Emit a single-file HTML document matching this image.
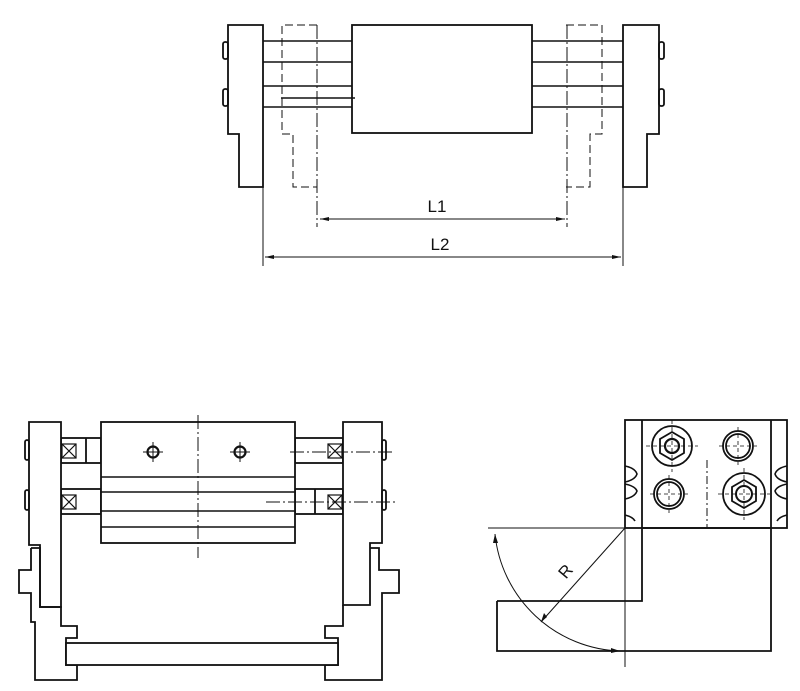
<!DOCTYPE html>
<html><head><style>html,body{margin:0;padding:0;background:#fff;}svg{display:block;}</style></head>
<body>
<svg width="800" height="691" viewBox="0 0 800 691" xmlns="http://www.w3.org/2000/svg" font-family="Liberation Sans, sans-serif">
<g fill="none" stroke="#111" stroke-width="1.8">
<!-- TOP VIEW -->
<polygon points="228,25 263,25 263,187 239,187 239,134 228,134" fill="#fff"/>
<polygon points="623,25 659,25 659,134 647,134 647,187 623,187" fill="#fff"/>
<rect x="352" y="25" width="180" height="108"/>
<g stroke-width="1.5">
<line x1="263" y1="41" x2="352" y2="41"/><line x1="263" y1="62" x2="352" y2="62"/>
<line x1="263" y1="86" x2="352" y2="86"/><line x1="263" y1="107" x2="352" y2="107"/>
<line x1="281" y1="98" x2="355" y2="98"/>
<line x1="532" y1="41" x2="623" y2="41"/><line x1="532" y1="62" x2="623" y2="62"/>
<line x1="532" y1="86" x2="623" y2="86"/><line x1="532" y1="107" x2="623" y2="107"/>
</g>
<rect x="223" y="42" width="5" height="17" rx="2"/><rect x="223" y="89" width="5" height="17" rx="2"/>
<rect x="659" y="42" width="5" height="17" rx="2"/><rect x="659" y="89" width="5" height="17" rx="2"/>
<g stroke-width="1" stroke-dasharray="8,4">
<polyline points="317,25 282,25 282,134 293,134 293,187 317,187"/>
<polyline points="566,25 602,25 602,134 590,134 590,187 566,187"/>
</g>
<g stroke-width="1" stroke-dasharray="14,3,2,3">
<line x1="317" y1="25" x2="317" y2="227"/>
<line x1="567" y1="25" x2="567" y2="227"/>
</g>
<g stroke-width="1">
<line x1="263" y1="187" x2="263" y2="266"/><line x1="623" y1="187" x2="623" y2="266"/>
<line x1="320" y1="219" x2="565" y2="219"/>
<line x1="265" y1="257" x2="621" y2="257"/>
</g>
</g>
<g fill="#111">
<polygon points="320,219 329,217 329,221"/><polygon points="565,219 556,217 556,221"/>
<polygon points="265,257 274,255 274,259"/><polygon points="621,257 612,255 612,259"/>
</g>
<text x="437" y="212" font-size="17" text-anchor="middle" fill="#111">L1</text>
<text x="440" y="250" font-size="17" text-anchor="middle" fill="#111">L2</text>

<!-- BOTTOM LEFT -->
<g fill="none" stroke="#111" stroke-width="1.8">
<rect x="61" y="438" width="40" height="25"/><rect x="61" y="489" width="40" height="25"/>
<rect x="295" y="438" width="48" height="25"/><rect x="295" y="489" width="48" height="25"/>
<line x1="86" y1="438" x2="86" y2="463"/><line x1="315" y1="489" x2="315" y2="514"/>
<polygon points="29,422 61,422 61,607 40,607 40,545 29,545" fill="#fff"/>
<polygon points="343,422 382,422 382,543 370,543 370,605 343,605" fill="#fff"/>
<polyline points="31,548 40,548 40,607 61,607 61,626 77,626 77,638 66,638 66,665 77,665 77,680 35,680 35,622 31,622 31,593 19,593 19,570 31,570 31,548"/>
<polyline points="370,548 379,548 379,570 399,570 399,593 382,593 382,680 325,680 325,665 338,665 338,638 325,638 325,626 343,626 343,605"/>
<rect x="66" y="643" width="272" height="22" fill="#fff"/>
<rect x="101" y="422" width="194" height="121" fill="#fff"/>
<g stroke-width="1.5">
<line x1="101" y1="477" x2="295" y2="477"/><line x1="101" y1="492" x2="295" y2="492"/>
<line x1="101" y1="511" x2="295" y2="511"/><line x1="101" y1="527" x2="295" y2="527"/>
</g>
<circle cx="153" cy="452" r="5.5" stroke-width="2.2"/><circle cx="240" cy="452" r="5.5" stroke-width="2.2"/>
<g stroke-width="1"><line x1="143" y1="452" x2="163" y2="452"/><line x1="153" y1="442" x2="153" y2="462"/>
<line x1="230" y1="452" x2="250" y2="452"/><line x1="240" y1="442" x2="240" y2="462"/></g>
<rect x="25" y="440" width="4" height="20" rx="2"/><rect x="25" y="490" width="4" height="20" rx="2"/>
<rect x="382" y="440" width="4" height="20" rx="2"/><rect x="382" y="490" width="4" height="20" rx="2"/>
<g stroke-width="1.2">
<rect x="62" y="444" width="14" height="14"/><path d="M62,444 L76,458 M76,444 L62,458"/>
<rect x="62" y="495" width="14" height="14"/><path d="M62,495 L76,509 M76,495 L62,509"/>
<rect x="328" y="444" width="14" height="14"/><path d="M328,444 L342,458 M342,444 L328,458"/>
<rect x="328" y="495" width="14" height="14"/><path d="M328,495 L342,509 M342,495 L328,509"/>
</g>
<g stroke-width="1" stroke-dasharray="14,3,2,3">
<line x1="198" y1="415" x2="198" y2="558"/>
<line x1="290" y1="452" x2="392" y2="452"/>
<line x1="266" y1="502" x2="395" y2="502"/>
</g>
</g>

<!-- BOTTOM RIGHT -->
<g fill="none" stroke="#111" stroke-width="1.8">
<polyline points="497,601 642,601 642,528 771,528 771,651 497,651 497,601"/>
<rect x="625" y="420" width="162" height="108"/>
<line x1="642" y1="420" x2="642" y2="528"/><line x1="771" y1="420" x2="771" y2="528"/>
<path d="M625,466 q10,2 12,8 q-2,6 -12,8 M625,484 q10,2 12,7 q-2,6 -12,8 M625,515 q8,2 10,6" stroke-width="1.6"/>
<path d="M787,466 q-10,2 -12,8 q2,6 12,8 M787,484 q-10,2 -12,7 q2,6 12,8 M787,515 q-8,2 -10,6" stroke-width="1.6"/>
<g stroke-width="1">
<line x1="488" y1="528" x2="625" y2="528"/>
<line x1="625" y1="528" x2="625" y2="667"/>
<line x1="625" y1="528" x2="541" y2="622"/>
<path d="M495,534 A130,130 0 0 0 620,651"/>
</g>
<circle cx="672" cy="446" r="20"/>
<polygon points="672,432 684,439 684,453 672,460 660,453 660,439"/>
<circle cx="672" cy="446" r="7" stroke-width="2.2"/>
<circle cx="738" cy="446" r="15"/><circle cx="738" cy="446" r="12"/>
<circle cx="669" cy="494" r="15"/><circle cx="669" cy="494" r="12"/>
<circle cx="744" cy="494" r="21"/>
<polygon points="744,480 756,487 756,501 744,508 732,501 732,487"/>
<circle cx="744" cy="494" r="8" stroke-width="2"/>
<g stroke-width="0.8" stroke-dasharray="4,3">
<line x1="646" y1="446" x2="698" y2="446"/><line x1="672" y1="420" x2="672" y2="472"/>
<line x1="719" y1="446" x2="757" y2="446"/><line x1="738" y1="427" x2="738" y2="465"/>
<line x1="650" y1="494" x2="688" y2="494"/><line x1="669" y1="475" x2="669" y2="513"/>
<line x1="718" y1="494" x2="770" y2="494"/><line x1="744" y1="468" x2="744" y2="520"/>
</g>
<line x1="707" y1="460" x2="707" y2="527" stroke-width="1" stroke-dasharray="8,3,2,3"/>
</g>
<g fill="#111">
<polygon points="541,622 544,613 547,617"/>
<polygon points="620,651 611,648 611,653"/>
<polygon points="495,534 493,543 498,543"/>
</g>
<text x="570" y="575" font-size="17" fill="#111" transform="rotate(-50 570 575)" text-anchor="middle">R</text>
</svg>
</body></html>
